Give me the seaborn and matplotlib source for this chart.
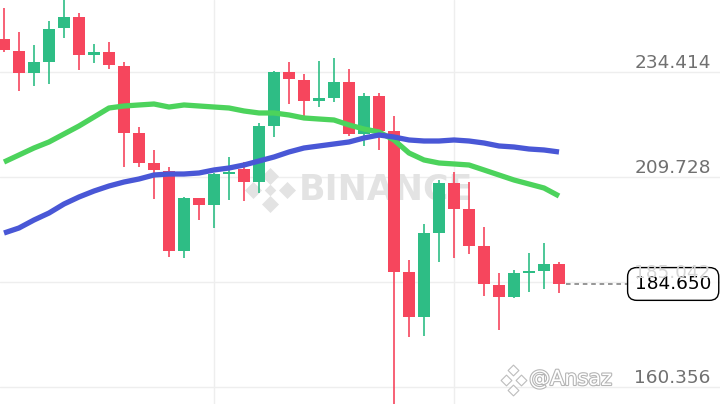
import numpy as np
import pandas as pd
import matplotlib
matplotlib.use("Agg")
import matplotlib.pyplot as plt
import matplotlib.patheffects as pe
import seaborn as sns

# ---- data ----
opens = [242.24, 239.42, 234.25, 236.83, 244.83, 247.42, 238.48, 239.19, 235.90, 220.14,
         213.09, 211.21, 192.40, 204.86, 203.22, 210.50, 211.68, 208.62, 221.79, 234.48,
         232.60, 227.66, 228.37, 232.13, 219.91, 228.84, 220.61, 187.46, 176.88, 196.63,
         208.39, 202.28, 193.58, 184.41, 181.59, 187.23, 187.70, 189.35]
closes = [239.66, 234.25, 236.83, 244.59, 247.42, 238.48, 239.19, 236.13, 220.14, 213.09,
          211.45, 192.40, 204.86, 203.22, 210.50, 210.97, 208.62, 221.79, 234.48, 232.84,
          227.66, 228.37, 232.13, 219.91, 228.84, 220.61, 187.46, 176.88, 196.63, 208.39,
          202.28, 193.58, 184.65, 181.59, 187.23, 187.70, 189.35, 184.65]
highs = [249.53, 243.89, 240.83, 246.47, 252.50, 248.36, 241.07, 241.54, 236.83, 221.55,
         216.15, 212.15, 205.10, 204.86, 210.74, 214.50, 213.33, 222.49, 234.72, 236.83,
         234.01, 237.07, 237.78, 235.19, 229.55, 229.55, 224.14, 190.28, 198.75, 209.09,
         210.97, 208.62, 198.04, 187.23, 187.93, 191.93, 194.28, 189.81]
lows = [239.19, 230.02, 231.19, 231.66, 242.48, 234.95, 236.60, 235.19, 212.15, 212.15,
        204.63, 191.00, 190.76, 199.69, 197.81, 204.39, 204.16, 206.04, 219.20, 226.96,
        224.14, 226.25, 227.43, 219.44, 217.09, 216.15, 150.00, 172.18, 172.42, 189.81,
        190.76, 191.70, 181.82, 173.83, 181.35, 182.76, 183.47, 182.53]
ma_fast = [213.32, 214.97, 216.62, 218.03, 219.91, 221.79, 223.90, 226.02, 226.49, 226.73,
           226.96, 226.25, 226.73, 226.49, 226.25, 226.02, 225.32, 224.85, 224.85, 224.38,
           223.67, 223.43, 223.20, 222.03, 221.08, 220.38, 218.50, 215.44, 213.80, 213.09,
           212.86, 212.62, 211.45, 210.27, 209.09, 208.15, 207.21, 205.33]
ma_slow = [196.63, 197.81, 199.69, 201.33, 203.45, 205.10, 206.50, 207.68, 208.62, 209.33,
           210.27, 210.50, 210.50, 210.74, 211.45, 211.91, 212.62, 213.56, 214.50, 215.68,
           216.62, 217.09, 217.56, 218.03, 218.97, 219.67, 219.20, 218.50, 218.26, 218.26,
           218.50, 218.26, 217.79, 217.09, 216.85, 216.38, 216.15, 215.68]
grid_levels = [234.414, 209.728, 185.042, 160.356]
grid_labels = ["234.414", "209.728", "185.042", "160.356"]
last_price = 184.650
last_label = "184.650"

# ---- style ----
sns.set_theme(style="white")
plt.rcParams["font.family"] = ["DejaVu Sans"]

UP = "#2EBD85"
DOWN = "#F6465D"
GREEN_MA = "#4CD35C"
BLUE_MA = "#4957D6"
GRID = "#EEEEEE"
LABEL = "#707070"

n = len(opens)
idx = np.arange(n)
df = pd.DataFrame({"i": idx, "open": opens, "close": closes, "high": highs, "low": lows,
                   "ma_fast": ma_fast, "ma_slow": ma_slow})
df["up"] = df["close"] >= df["open"]
df["color"] = np.where(df["up"], UP, DOWN)

fig = plt.figure(figsize=(7.2, 4.04), dpi=100)
ax = fig.add_axes([0, 0, 1, 1])
ax.set_facecolor("white")

# grid
for g in grid_levels:
    ax.axhline(g, color=GRID, lw=1.0, zorder=0)
for vx in [14, 30]:
    ax.axvline(vx, color=GRID, lw=1.0, zorder=0)

# BINANCE watermark (centre)
ax.text(0.415, 0.53, "BINANCE", transform=ax.transAxes, fontsize=25, fontweight="bold",
        color="#E3E3E3", ha="left", va="center", zorder=0.5)
for (dx, dy, s) in [(0.375, 0.565, 75), (0.352, 0.53, 75), (0.398, 0.53, 75),
                    (0.375, 0.495, 75), (0.375, 0.53, 35)]:
    ax.scatter([dx], [dy], marker="D", s=s, color="#E3E3E3", transform=ax.transAxes,
               zorder=0.5, linewidths=0)

# candles
body_h = (df["close"] - df["open"]).abs().clip(lower=0.45)
body_b = df[["open", "close"]].min(axis=1)
ax.vlines(df["i"], df["low"], df["high"], colors=df["color"], lw=1.2, zorder=2)
ax.bar(df["i"], body_h, bottom=body_b, width=0.86, color=df["color"], linewidth=0, zorder=3)

# moving averages
sns.lineplot(data=df, x="i", y="ma_fast", ax=ax, color=GREEN_MA, lw=3.8, zorder=4,
             solid_capstyle="butt")
sns.lineplot(data=df, x="i", y="ma_slow", ax=ax, color=BLUE_MA, lw=3.8, zorder=4,
             solid_capstyle="butt")

ax.set_xlim(-0.267, 47.733)
ax.set_ylim(156.43, 251.41)
ax.set_xlabel("")
ax.set_ylabel("")
ax.set_xticks([])
ax.set_yticks([])
for sp in ax.spines.values():
    sp.set_visible(False)

# right-hand price labels
trans = ax.get_yaxis_transform()
for g, lab in zip(grid_levels, grid_labels):
    faint = lab == "185.042"
    ax.text(0.987, g + 2.2, lab, transform=trans, ha="right", va="center",
            fontsize=13.3, color="#D6D6D6" if faint else LABEL,
            zorder=7.5 if faint else 5)

# last price dashed line + box
ax.plot([n - 1 + 0.45, 41.6], [last_price, last_price], ls=(0, (3, 2.5)), color="#7A7A7A",
        lw=1.1, zorder=5)
ax.text(0.988, last_price, last_label, transform=trans, ha="right", va="center",
        fontsize=13.3, color="black", zorder=7,
        bbox=dict(boxstyle="round,pad=0.4,rounding_size=0.5", fc=(1, 1, 1, 0.9),
                  ec="black", lw=1.0))

# bottom watermark "@Ansaz"
for (dx, dy, s) in [(0.713, 0.085, 30), (0.703, 0.06, 30), (0.723, 0.06, 30), (0.713, 0.035, 30)]:
    ax.scatter([dx], [dy], marker="D", s=s, facecolor="white", edgecolor="#BDBDBD",
               transform=ax.transAxes, zorder=8, linewidths=0.8)
ax.text(0.735, 0.062, "@Ansaz", transform=ax.transAxes, fontsize=15, color="white",
        ha="left", va="center", zorder=8,
        path_effects=[pe.withStroke(linewidth=1.6, foreground="#B5B5B5")])

fig.savefig("out.png", dpi=100)
